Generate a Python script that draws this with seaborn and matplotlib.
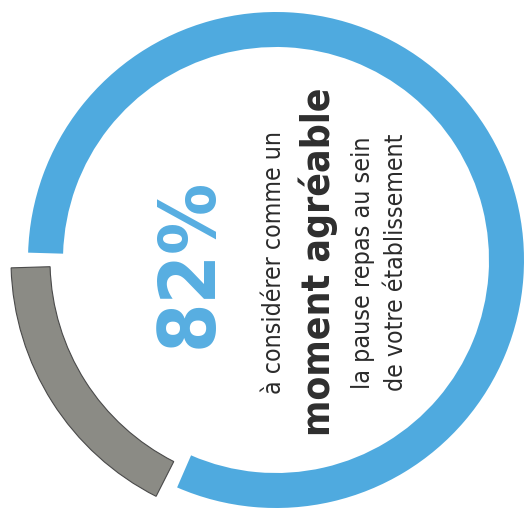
import matplotlib
matplotlib.use("Agg")
import matplotlib.pyplot as plt
from matplotlib import font_manager
import seaborn as sns

# ---- data ----
segment_labels = ["autre", "agréable"]
segment_values = [18, 82]
segment_colors = ["#8b8b85", "#4faadf"]
big_value_label = "82%"
text_lines = ["à considérer comme un", "moment agréable",
              "la pause repas au sein", "de votre établissement"]

sns.set_style("white")

names = {f.name for f in font_manager.fontManager.ttflist}
if "Liberation Sans Narrow" in names:
    fam = ["Liberation Sans Narrow", "DejaVu Sans"]
    stretch = "normal"
else:
    fam = ["DejaVu Sans"]
    stretch = "condensed"
plt.rcParams["font.family"] = fam

W, H = 528, 514
fig = plt.figure(figsize=(W / 100, H / 100), dpi=100)
ax = fig.add_axes([0, 0, 1, 1])

cx, cy = 276, H - 260
R, width = 248, 35
wedges, _ = ax.pie(segment_values, colors=segment_colors, startangle=180,
                   counterclock=True, radius=R, center=(cx, cy),
                   wedgeprops=dict(width=width, linewidth=0))
gap = 1.7
for w in wedges:
    w.set_theta1(w.theta1 + gap)
    w.set_theta2(w.theta2 - gap)
# gray segment drawn slightly larger
wedges[0].set_radius(265)
wedges[0].set_width(39)
wedges[0].set_edgecolor("#4a4a4a")
wedges[0].set_linewidth(0.8)

ax.set_xlim(0, W)
ax.set_ylim(0, H)
ax.set_aspect("auto")
ax.axis("off")

def vtext(x, y, s, size, color, weight="normal"):
    ax.text(x, H - y, s, rotation=90, rotation_mode="anchor",
            ha="center", va="baseline", fontsize=size, color=color,
            fontweight=weight, fontstretch=stretch)

vtext(212, 263, big_value_label, 57, "#57aee1", "bold")
vtext(281, 262, text_lines[0], 17.8, "#2b2b2b")
vtext(330, 262, text_lines[1], 28, "#2e2e2e", "bold")
vtext(370, 263, text_lines[2], 18, "#2b2b2b")
vtext(403, 262, text_lines[3], 17.8, "#2b2b2b")

fig.savefig("out.png", dpi=100, facecolor="white")
